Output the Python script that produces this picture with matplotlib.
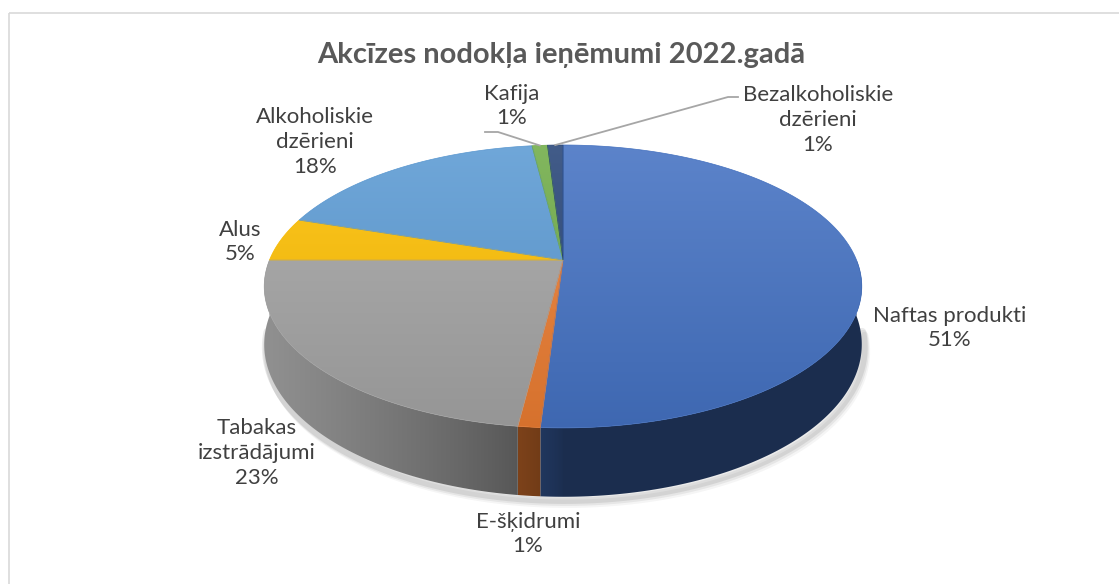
import numpy as np
import matplotlib
matplotlib.use("Agg")
import matplotlib.pyplot as plt
from matplotlib.patches import Polygon, Rectangle
from matplotlib.colors import to_rgb

# data (share of excise tax revenue, %)
labels = ["Naftas produkti", "E-šķidrumi", "Tabakas\nizstrādājumi", "Alus",
          "Alkoholiskie\ndzērieni", "Kafija", "Bezalkoholiskie\ndzērieni"]
values = [51, 1, 23, 5, 18, 1, 1]
colors = ["#4472C4", "#ED7D31", "#A5A5A5", "#FFC000", "#5B9BD5", "#70AD47", "#264478"]
title = "Akcīzes nodokļa ieņēmumi 2022.gadā"

# label anchor positions (pixels) for each slice
label_pos = [(950, 328), (528, 534), (257, 453), (240, 242),
             (315, 142), (512, 106), (818, 120)]

plt.rcParams['font.family'] = ['Lato', 'DejaVu Sans']

W, H = 1119, 584
fig = plt.figure(figsize=(W / 100, H / 100), dpi=100)
ax = fig.add_axes([0, 0, 1, 1])
ax.set_xlim(0, W)
ax.set_ylim(H, 0)
ax.axis('off')

# chart border
ax.add_patch(Rectangle((8.5, 12.5), W + 10, H + 10, fill=False, ec="#D9D9D9", lw=1.2))

# 3d pie geometry
cx, cy, rx, ry, k, depth = 563, 260, 293.5, 136.5, 0.187, 56


def proj(theta, z=0.0):
    t = np.radians(theta)
    u, v = np.sin(t), np.cos(t)
    f = 1.0 / (1.0 + k * v)
    return cx + rx * u * f, cy - ry * v * f + z * depth * f


def shade(c, fac):
    r, g, b = to_rgb(c)
    return (r * fac, g * fac, b * fac)


fracs = np.array(values, dtype=float) / sum(values)
edges = np.concatenate([[0], np.cumsum(fracs) * 360])

# soft shadow under the front rim
for off, a in [(7, 0.04), (5, 0.06), (3, 0.08)]:
    th = np.linspace(95, 265, 200)
    xs, ys = proj(th, 1.0)
    ax.plot(xs + off * 0.6, ys + off, color="black", alpha=a, lw=6, solid_capstyle='round', zorder=1)

# side walls (front half only), horizontal shading by position
x0, x1 = cx - rx - 20, cx + rx + 20
xcol = np.linspace(x0, x1, 600)
ucol = np.clip((xcol - cx) / rx, -1, 1)
fcol = 0.40 + 0.47 * np.clip(-ucol, 0, None) ** 0.7
for i in range(len(values)):
    a0, a1 = max(edges[i], 90), min(edges[i + 1], 270)
    if a1 <= a0:
        continue
    th = np.linspace(a0, a1, max(3, int((a1 - a0) * 2)))
    xa, ya = proj(th, 0)
    xb, yb = proj(th[::-1], 1)
    wall = np.column_stack([np.r_[xa, xb], np.r_[ya, yb]])
    poly = Polygon(wall, closed=True, fc='none', ec='none', zorder=2)
    ax.add_patch(poly)
    base = np.array(to_rgb(colors[i]))
    img = (fcol[:, None] * base[None, :])[None, :, :]
    im = ax.imshow(img, extent=(x0, x1, cy + ry * 1.3 + depth * 1.4, cy - ry),
                   origin='upper', aspect='auto', zorder=2, interpolation='bilinear')
    im.set_clip_path(poly)

# top faces with a vertical gradient
grad = np.linspace(0, 1, 256)[:, None]
for i in range(len(values)):
    th = np.linspace(edges[i], edges[i + 1], max(3, int(values[i] * 4)))
    xs, ys = proj(th)
    pts = np.vstack([[cx, cy], np.column_stack([xs, ys])])
    poly = Polygon(pts, closed=True, fc='none', ec='none', zorder=3)
    ax.add_patch(poly)
    top = np.array(shade(colors[i], 1.0))
    light = top + (1 - top) * 0.14
    dark = top * 0.90
    img = light[None, None, :] * (1 - grad[..., None]) + dark[None, None, :] * grad[..., None]
    im = ax.imshow(img, extent=(x0, x1, cy + ry * 1.3, cy - ry),
                   origin='upper', aspect='auto', zorder=3, interpolation='bilinear')
    im.set_clip_path(poly)
    ax.add_patch(Polygon(pts, closed=True, fc='none', ec=shade(colors[i], 0.97), lw=0.5, zorder=4))

ax.set_xlim(0, W)
ax.set_ylim(H, 0)

# labels
txt_kw = dict(ha='center', va='center', fontsize=16, color="#404040", linespacing=1.3, zorder=6)
for i, lab in enumerate(labels):
    x, y = label_pos[i]
    ax.text(x, y, f"{lab}\n{values[i]}%", **txt_kw)

# leader lines for the small slices at the top
lc = "#A6A6A6"
mid = (edges[5] + edges[6]) / 2
px, py = proj(mid)
ax.plot([485, 498, px], [132, 132, py], color=lc, lw=1.3, zorder=5)
mid = (edges[6] + edges[7]) / 2
px, py = proj(mid)
ax.plot([px, 728, 738], [py, 97, 97], color=lc, lw=1.3, zorder=5)

ax.text(W / 2 + 2, 55, title, ha='center', va='center', fontsize=21,
        fontweight='bold', color="#595959", zorder=6)

fig.savefig("out.png", dpi=100)
